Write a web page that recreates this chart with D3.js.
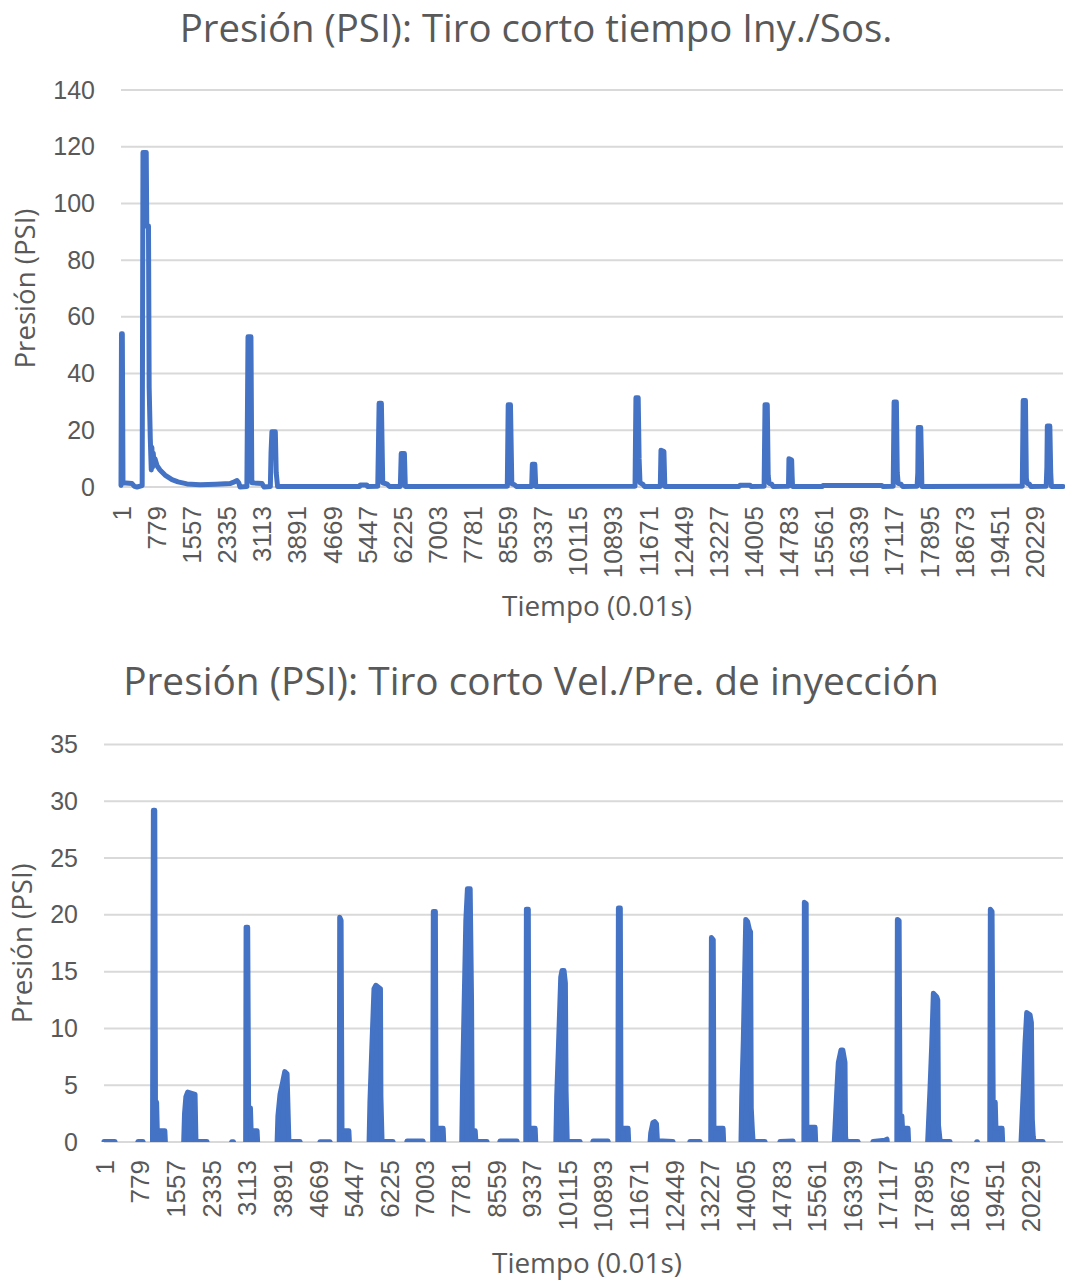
<!DOCTYPE html>
<html>
<head>
<meta charset="utf-8">
<script src="https://cdn.jsdelivr.net/npm/d3@7"></script>
<style>
  body { margin: 0; background: #fff; }
  svg { display: block; font-family: "Open Sans", "Noto Sans", sans-serif; }
  .grid line { stroke: #d9d9d9; stroke-width: 2; }
  .axis text { fill: #595959; }
</style>
</head>
<body>
<svg id="chart" width="1065" height="1280"></svg>
<script>
// Etiquetas del eje X (cada 778 muestras) y valores del eje Y
const etiquetasTiempo = [1, 779, 1557, 2335, 3113, 3891, 4669, 5447, 6225, 7003, 7781, 8559, 9337,
  10115, 10893, 11671, 12449, 13227, 14005, 14783, 15561, 16339, 17117, 17895, 18673, 19451, 20229];
const ticksPresion1 = [0, 20, 40, 60, 80, 100, 120, 140];
const ticksPresion2 = [0, 5, 10, 15, 20, 25, 30, 35];

const muestras1 = 20872;
const muestras2 = 20950;

// Tiro corto tiempo Iny./Sos. : [muestra, presión]
const serieInySos = [
  [1, 0.5], [12, 54], [30, 54], [45, 1.5], [245, 1.2], [300, 0.2], [356, 0], [470, 0.5],
  [488, 118], [560, 118], [572, 92], [610, 92], [625, 35], [650, 17], [672, 6], [685, 14],
  [700, 7], [715, 12], [735, 8], [754, 10], [800, 7.5], [865, 6], [976, 4.2], [1131, 2.6],
  [1264, 1.8], [1463, 1.1], [1751, 0.8], [2100, 1.0], [2416, 1.2], [2483, 1.6], [2571, 2.3],
  [2610, 1.5], [2638, 0], [2790, 0.2], [2815, 53], [2880, 53], [2900, 1.5], [3125, 1.2],
  [3170, 0], [3310, 0.2], [3325, 12], [3345, 19.5], [3420, 19.5], [3440, 5], [3470, 0.2],
  [5290, 0.2], [5300, 0.7], [5450, 0.7], [5460, 0.2],
  [5690, 0.3], [5720, 29.5], [5770, 29.5], [5800, 1.5], [5900, 1], [5950, 0.2],
  [6190, 0.2], [6210, 11.8], [6280, 11.8], [6300, 0.2],
  [8560, 0.3], [8580, 29], [8630, 29], [8660, 1.2], [8720, 0.8], [8760, 0.2],
  [9100, 0.2], [9115, 8], [9170, 8], [9190, 0.2],
  [11390, 0.3], [11410, 31.5], [11460, 31.5], [11480, 10], [11500, 1.5], [11560, 1], [11600, 0.2],
  [11950, 0.2], [11965, 13], [12030, 12.5], [12050, 0.2],
  [13700, 0.2], [13716, 0.6], [13940, 0.6], [13960, 0.2],
  [14250, 0.3], [14270, 29], [14320, 29], [14340, 4], [14360, 1.3], [14420, 1], [14450, 0.2],
  [14790, 0.3], [14800, 10], [14860, 9.5], [14870, 4], [14880, 0.2],
  [15540, 0.2], [15555, 0.5], [16860, 0.5], [16880, 0.2],
  [17110, 0.3], [17130, 30], [17180, 30], [17200, 5], [17220, 1.3], [17280, 1], [17320, 0.2],
  [17640, 0.3], [17655, 5], [17665, 21], [17720, 21], [17735, 10], [17745, 0.2],
  [19970, 0.3], [19990, 30.5], [20040, 30.5], [20060, 3], [20080, 1.3], [20130, 1], [20160, 0.2],
  [20500, 0.3], [20515, 7], [20525, 21.5], [20580, 21.5], [20600, 5], [20615, 0.2], [20872, 0.2]
];

// Tiro corto Vel./Pre. de inyección : [muestra, presión]
const serieVelPre = [
  [1, 0.05], [240, 0.05], [260, -0.3], [720, -0.3], [744, 0.05], [853, 0.05], [870, -0.3],
  [1060, -0.3], [1080, 29.2], [1110, 29.2], [1125, 3.5], [1150, 3.5], [1165, 1], [1330, 1], [1345, -0.3],
  [1740, -0.3], [1760, 2.5], [1790, 4], [1830, 4.4], [1990, 4.2], [2010, 0.05], [2250, 0.05], [2265, -0.3],
  [2770, -0.3], [2790, 0.02], [2830, 0.02], [2850, -0.3],
  [3095, -0.3], [3105, 18.9], [3140, 18.9], [3160, 3], [3200, 3], [3215, 1], [3345, 1], [3360, -0.3],
  [3780, -0.3], [3800, 2.3], [3846, 4.2], [3905, 5.3], [3950, 6.2], [4000, 6.0], [4040, 0.05], [4283, 0.05], [4300, -0.3],
  [4700, -0.3], [4720, 0.03], [4938, 0.03], [4960, -0.3],
  [5140, -0.3], [5150, 19.8], [5180, 19.5], [5200, 1], [5350, 1], [5365, -0.3],
  [5790, -0.3], [5810, 3.5], [5849, 8], [5899, 13.5], [5940, 13.8], [6040, 13.5], [6050, 4], [6075, 0.05], [6314, 0.05], [6330, -0.3],
  [6600, -0.3], [6620, 0.08], [6970, 0.08], [6990, -0.3],
  [7180, -0.3], [7195, 20.3], [7240, 20.3], [7255, 1.2], [7410, 1.2], [7425, -0.3],
  [7815, -0.3], [7835, 5.5], [7905, 19.5], [7940, 22.3], [8000, 22.3], [8030, 12.5], [8045, 1], [8110, 1], [8125, 0.05], [8368, 0.05], [8385, -0.3],
  [8630, -0.3], [8652, 0.08], [9024, 0.08], [9040, -0.3],
  [9215, -0.3], [9228, 20.5], [9270, 20.5], [9285, 1.2], [9420, 1.2], [9435, -0.3],
  [9870, -0.3], [9890, 4], [9925, 8], [9978, 14.5], [10006, 15.1], [10050, 15.1], [10080, 14], [10095, 4.5], [10120, 0.05], [10400, 0.05], [10415, -0.3],
  [10660, -0.3], [10683, 0.08], [11011, 0.08], [11030, -0.3],
  [11225, -0.3], [11238, 20.6], [11280, 20.6], [11295, 1.2], [11450, 1.2], [11465, -0.3],
  [11925, -0.3], [11944, 0.8], [11990, 1.7], [12030, 1.8], [12070, 1.6], [12090, 0.1], [12430, 0.05], [12445, -0.3],
  [12780, -0.3], [12801, 0.05], [13020, 0.05], [13040, -0.3],
  [13255, -0.3], [13270, 18], [13310, 17.8], [13325, 1.2], [13525, 1.2], [13540, -0.3],
  [13915, -0.3], [13932, 4], [13967, 9], [14020, 19.6], [14060, 19.4], [14100, 18.7], [14125, 18.5], [14140, 3], [14165, 1], [14180, 0.05], [14440, 0.05], [14455, -0.3],
  [14750, -0.3], [14768, 0.05], [15052, 0.08], [15070, -0.3],
  [15290, -0.3], [15300, 21.1], [15340, 21], [15355, 1.3], [15535, 1.3], [15550, -0.3],
  [15950, -0.3], [15970, 1.3], [16006, 4.3], [16042, 7], [16100, 8.1], [16140, 8.1], [16188, 7], [16200, 0.5], [16215, 0.05], [16472, 0.05], [16490, -0.3],
  [16780, -0.3], [16800, 0.05], [17060, 0.15], [17105, 0.25], [17120, -0.3],
  [17320, -0.3], [17332, 19.6], [17370, 19.5], [17390, 2.3], [17430, 2.3], [17445, 1.2], [17565, 1.2], [17580, -0.3],
  [17990, -0.3], [18008, 1.3], [18045, 4.7], [18082, 8.5], [18118, 13.1], [18190, 12.8], [18215, 12.5], [18230, 1.5], [18260, 0.3], [18275, 0.05], [18481, 0.05], [18495, -0.3],
  [19050, -0.3], [19065, 0.02], [19080, 0.02], [19095, -0.3],
  [19350, -0.3], [19363, 20.5], [19400, 20.3], [19425, 3.5], [19470, 3.5], [19485, 1.2], [19620, 1.2], [19635, -0.3],
  [20030, -0.3], [20047, 1.3], [20083, 4.7], [20120, 8.7], [20157, 11.4], [20230, 11.2], [20260, 10.5], [20280, 2], [20300, 0.5], [20315, 0.05], [20513, 0.05], [20530, -0.3], [20950, -0.3]
];

const svg = d3.select("#chart");
const azul = "#4472C4";
const gris = "#595959";

// ajusta el tamaño de letra para que el texto ocupe el ancho indicado
function ajustar(texto, ancho) {
  const base = parseFloat(texto.attr("font-size"));
  const largo = texto.node().getComputedTextLength();
  texto.attr("font-size", base * ancho / largo);
}

function dibujar(cfg) {
  const x = d3.scaleLinear().domain([1, cfg.muestras]).range([cfg.izq, cfg.der]);
  const y = d3.scaleLinear().domain([0, d3.max(cfg.ticksY)]).range([cfg.abajo, cfg.arriba]);

  const g = svg.append("g");

  g.append("g").attr("class", "grid")
    .selectAll("line")
    .data(cfg.ticksY)
    .join("line")
    .attr("x1", cfg.izq).attr("x2", cfg.der)
    .attr("y1", d => y(d)).attr("y2", d => y(d));

  const ejeY = g.append("g").attr("class", "axis")
    .attr("transform", `translate(${cfg.izq},0)`)
    .call(d3.axisLeft(y).tickValues(cfg.ticksY).tickSize(0).tickPadding(26));
  ejeY.select(".domain").remove();
  ejeY.selectAll("text").attr("font-size", 25).attr("font-family", null);

  const ejeX = g.append("g").attr("class", "axis")
    .attr("transform", `translate(0,${cfg.abajo})`)
    .call(d3.axisBottom(x).tickValues(etiquetasTiempo).tickSize(0).tickFormat(d3.format("d")));
  ejeX.select(".domain").remove();
  ejeX.selectAll("text")
    .attr("font-size", 26).attr("font-family", null)
    .attr("transform", "rotate(-90)")
    .attr("text-anchor", "end")
    .attr("x", -cfg.padX).attr("y", 0).attr("dy", "0.36em");

  const clipId = "clip" + cfg.id;
  g.append("clipPath").attr("id", clipId)
    .append("rect")
    .attr("x", cfg.izq - 5).attr("width", cfg.der - cfg.izq + 10)
    .attr("y", cfg.arriba - 10).attr("height", cfg.abajo - cfg.arriba + 10 + cfg.margenClip);

  // con muestreo denso, los picos del segundo tiro se ven rellenos
  if (cfg.relleno) {
    const area = d3.area().x(d => x(d[0])).y0(y(0)).y1(d => y(d[1]));
    g.append("path")
      .datum(cfg.serie)
      .attr("clip-path", `url(#${clipId})`)
      .attr("fill", azul)
      .attr("d", area);
  }

  const linea = d3.line().x(d => x(d[0])).y(d => y(d[1]));
  g.append("path")
    .datum(cfg.serie)
    .attr("clip-path", `url(#${clipId})`)
    .attr("fill", "none")
    .attr("stroke", azul)
    .attr("stroke-width", 5)
    .attr("stroke-linejoin", "round")
    .attr("stroke-linecap", "round")
    .attr("d", linea);

  const titulo = g.append("text")
    .attr("x", cfg.titulo.x).attr("y", cfg.titulo.y)
    .attr("text-anchor", "middle").attr("dominant-baseline", "central")
    .attr("fill", gris).attr("font-size", 32)
    .text(cfg.titulo.texto);
  ajustar(titulo, cfg.titulo.ancho);

  const tituloY = g.append("text")
    .attr("transform", `translate(${cfg.tituloY.x},${(cfg.arriba + cfg.abajo) / 2}) rotate(-90)`)
    .attr("text-anchor", "middle").attr("dominant-baseline", "central")
    .attr("fill", gris).attr("font-size", 25)
    .text("Presión (PSI)");
  ajustar(tituloY, 160);

  const tituloX = g.append("text")
    .attr("x", cfg.tituloX.x).attr("y", cfg.tituloX.y)
    .attr("text-anchor", "middle").attr("dominant-baseline", "central")
    .attr("fill", gris).attr("font-size", 25)
    .text("Tiempo (0.01s)");
  ajustar(tituloX, 190);
}

dibujar({
  id: 1, serie: serieInySos, muestras: muestras1, ticksY: ticksPresion1,
  izq: 121, der: 1063, arriba: 90, abajo: 487, padX: 19, margenClip: 10, relleno: false,
  titulo: { texto: "Presión (PSI): Tiro corto tiempo Iny./Sos.", x: 536, y: 27, ancho: 713 },
  tituloY: { x: 24 },
  tituloX: { x: 597, y: 605 }
});

dibujar({
  id: 2, serie: serieVelPre, muestras: muestras2, ticksY: ticksPresion2,
  izq: 104, der: 1063, arriba: 744.5, abajo: 1142, padX: 18, margenClip: 0, relleno: true,
  titulo: { texto: "Presión (PSI): Tiro corto Vel./Pre. de inyección", x: 531, y: 680, ancho: 816 },
  tituloY: { x: 21 },
  tituloX: { x: 587, y: 1262 }
});
</script>
</body>
</html>
